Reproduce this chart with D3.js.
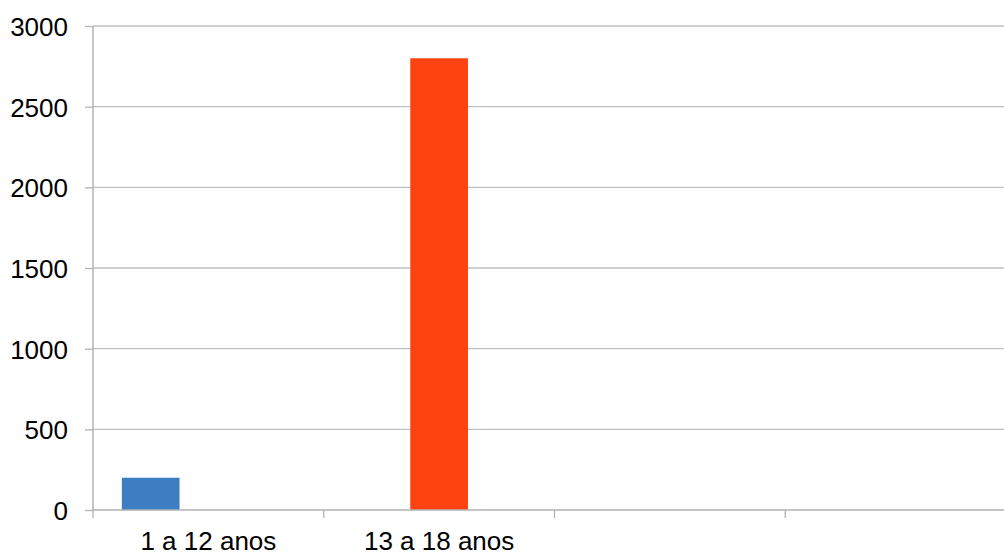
<!DOCTYPE html>
<html>
<head>
<meta charset="utf-8">
<script src="https://cdn.jsdelivr.net/npm/d3@7"></script>
<style>
  html, body { margin: 0; padding: 0; background: #fff; }
  svg { display: block; }
  text { font-family: "Liberation Sans", Arial, sans-serif; fill: #000; }
</style>
</head>
<body>
<svg id="chart" width="1004" height="553"></svg>
<script>
// Age-group categories (the last two slots are empty)
const categories = ["1 a 12 anos", "13 a 18 anos", "", ""];
const seriesNames = ["s1", "s2", "s3"];
const series1 = [200, 0, 0, 0];
const series2 = [0, 2800, 0, 0];
const series3 = [0, 0, 0, 0];
const yTicks = [0, 500, 1000, 1500, 2000, 2500, 3000];
const colors = ["#3d7dc2", "#ff4310", "#9bbb59"];

const svg = d3.select("#chart");
const plotLeft = 93, plotRight = 1016, plotTop = 26, plotBottom = 510;
const fontSize = 26;

const y = d3.scaleLinear().domain([0, 3000]).range([plotBottom, plotTop]);
const x0 = d3.scaleBand().domain(d3.range(categories.length)).range([plotLeft, plotRight]).padding(0);
const bw = x0.bandwidth();
// gap between clusters equals one bar width
const x1 = d3.scaleBand().domain(seriesNames).range([bw * 0.125, bw * 0.875]).padding(0);

// horizontal gridlines
svg.append("g")
  .selectAll("line").data(yTicks.filter(d => d > 0)).join("line")
  .attr("x1", plotLeft).attr("x2", plotRight)
  .attr("y1", d => y(d)).attr("y2", d => y(d))
  .attr("stroke", "#bfbfbf").attr("stroke-width", 1.3);

// y axis
const yAxis = svg.append("g").attr("transform", `translate(${plotLeft},0)`)
  .call(d3.axisLeft(y).tickValues(yTicks).tickSize(8).tickPadding(17).tickFormat(d3.format("d")));
yAxis.select(".domain").attr("stroke", "#b3b3b3").attr("stroke-width", 1.5).attr("d", `M0,${plotTop}V${plotBottom}`);
yAxis.selectAll(".tick line").attr("stroke", "#b3b3b3").attr("stroke-width", 1.3);
yAxis.selectAll(".tick text").attr("font-size", fontSize).attr("dy", "0.37em")
  .style("font-family", '"Liberation Sans", Arial, sans-serif').attr("fill", "#000");

// bars
const data = [series1, series2, series3];
const groups = svg.append("g").selectAll("g").data(seriesNames).join("g").attr("fill", (d, i) => colors[i]);
groups.selectAll("rect")
  .data((s, i) => data[i].map((v, j) => ({ v, j, s })).filter(d => d.v > 0))
  .join("rect")
  .attr("x", d => x0(d.j) + x1(d.s))
  .attr("width", x1.bandwidth())
  .attr("y", d => y(d.v))
  .attr("height", d => y(0) - y(d.v));

// x axis baseline and boundary ticks
svg.append("line").attr("x1", plotLeft).attr("x2", plotRight).attr("y1", plotBottom).attr("y2", plotBottom)
  .attr("stroke", "#b3b3b3").attr("stroke-width", 1.5);
svg.append("g").selectAll("line").data(d3.range(categories.length + 1)).join("line")
  .attr("x1", i => plotLeft + i * bw).attr("x2", i => plotLeft + i * bw)
  .attr("y1", plotBottom).attr("y2", plotBottom + 8)
  .attr("stroke", "#b3b3b3").attr("stroke-width", 1.3);

// category labels
svg.append("g").selectAll("text").data(categories).join("text")
  .attr("x", (d, i) => x0(i) + bw / 2)
  .attr("y", 550)
  .attr("text-anchor", "middle")
  .attr("font-size", fontSize)
  .text(d => d);
</script>
</body>
</html>
